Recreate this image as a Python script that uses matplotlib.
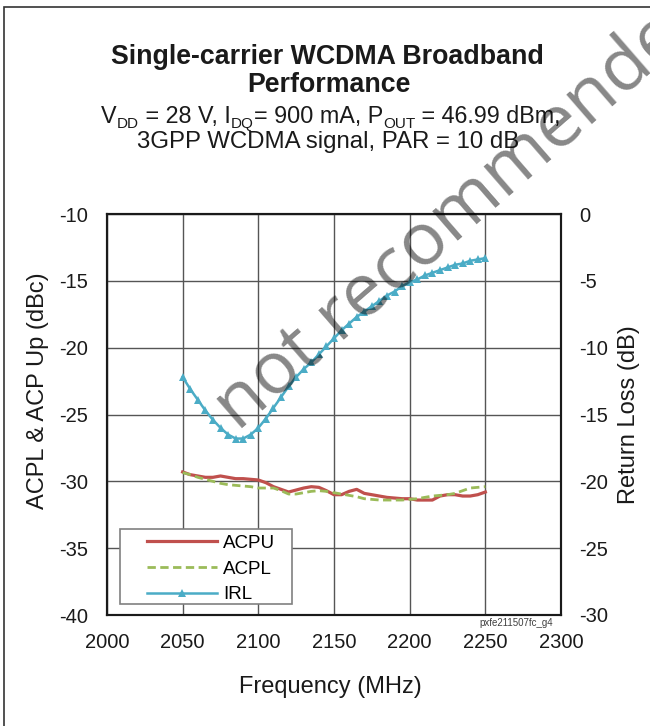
import matplotlib
matplotlib.use("Agg")
import matplotlib.pyplot as plt
from matplotlib.patches import Rectangle

plt.rcParams['font.family'] = ['Liberation Sans', 'DejaVu Sans']
plt.rcParams['axes.unicode_minus'] = False

# ---------------- data ----------------
freq = [2050, 2055, 2060, 2065, 2070, 2075, 2080, 2085, 2090, 2095,
        2100, 2105, 2110, 2115, 2120, 2125, 2130, 2135, 2140, 2145,
        2150, 2155, 2160, 2165, 2170, 2175, 2180, 2185, 2190, 2195,
        2200, 2205, 2210, 2215, 2220, 2225, 2230, 2235, 2240, 2245, 2250]

acpu = [-29.3, -29.5, -29.6, -29.7, -29.7, -29.6, -29.7, -29.8, -29.8, -29.85,
        -29.9, -30.1, -30.4, -30.6, -30.8, -30.65, -30.5, -30.4, -30.45, -30.7,
        -31.0, -31.0, -30.75, -30.6, -30.9, -31.0, -31.1, -31.2, -31.25, -31.3,
        -31.3, -31.4, -31.4, -31.4, -31.1, -31.0, -31.0, -31.1, -31.1, -31.0, -30.8]

acpl = [-29.35, -29.5, -29.7, -29.85, -30.0, -30.15, -30.25, -30.3, -30.35, -30.4,
        -30.5, -30.5, -30.5, -30.7, -30.95, -30.95, -30.85, -30.75, -30.7, -30.75,
        -30.85, -30.95, -31.05, -31.15, -31.3, -31.35, -31.4, -31.4, -31.4, -31.4,
        -31.35, -31.3, -31.2, -31.1, -31.05, -31.0, -30.9, -30.7, -30.5, -30.45, -30.4]

irl = [-12.2, -13.1, -13.9, -14.7, -15.4, -16.0, -16.5, -16.8, -16.8, -16.5,
       -16.0, -15.3, -14.5, -13.7, -12.9, -12.2, -11.6, -11.1, -10.5, -9.9,
       -9.3, -8.7, -8.2, -7.7, -7.3, -6.9, -6.5, -6.1, -5.8, -5.4,
       -5.1, -4.9, -4.6, -4.4, -4.2, -4.0, -3.8, -3.7, -3.5, -3.4, -3.3]

x_ticks = [2000, 2050, 2100, 2150, 2200, 2250, 2300]
left_ticks = [-40, -35, -30, -25, -20, -15, -10]
right_ticks = [-30, -25, -20, -15, -10, -5, 0]

title_lines = ["Single-carrier WCDMA Broadband", "Performance"]
# subtitle line 1 as (text, is_subscript) pieces
subtitle1 = [("V", False), ("DD", True), (" = 28 V, I", False), ("DQ", True),
             ("= 900 mA, P", False), ("OUT", True), (" = 46.99 dBm,", False)]
subtitle2 = "3GPP WCDMA signal, PAR = 10 dB"

C_ACPU = '#c0504d'
C_ACPL = '#9bbb59'
C_IRL = '#4bacc6'
TXT = '#1a1a1a'

W, H = 650, 726
fig = plt.figure(figsize=(W / 100, H / 100), dpi=100)

def fx(px):
    return px / W

def fy(py):
    return 1 - py / H

ax = fig.add_axes([fx(107), fy(615), fx(561) - fx(107), fy(214) - fy(615)])
ax2 = ax.twinx()

ax.set_xlim(2000, 2300)
ax.set_ylim(-40, -10)
ax2.set_ylim(-30, 0)
ax.set_xticks(x_ticks)
ax.set_yticks(left_ticks)
ax2.set_yticks(right_ticks)

ax.grid(True, color='#555555', linewidth=1.0)
ax.set_axisbelow(True)

for a in (ax, ax2):
    for s in a.spines.values():
        s.set_linewidth(1.5)
        s.set_color(TXT)

ax.tick_params(axis='x', length=0, pad=13, labelsize=14.5, colors=TXT)
ax.tick_params(axis='y', length=0, pad=13.5, labelsize=14.5, colors=TXT)
ax2.tick_params(axis='y', length=0, pad=13, labelsize=14.5, colors=TXT)

l1, = ax.plot(freq, acpu, color=C_ACPU, linewidth=2.3, label='ACPU', zorder=3)
l2, = ax.plot(freq, acpl, color=C_ACPL, linewidth=2.0, linestyle=(0, (3, 1.6)), label='ACPL', zorder=3)
l3, = ax2.plot(freq, irl, color=C_IRL, linewidth=1.8, marker='^', markersize=5.8,
               markeredgewidth=0, label='IRL', zorder=3)

ax.set_xlabel('Frequency (MHz)', fontsize=17, color=TXT)
ax.set_ylabel('ACPL & ACP Up (dBc)', fontsize=17, color=TXT)
ax2.set_ylabel('Return Loss (dB)', fontsize=17, color=TXT)
ax.xaxis.set_label_coords(0.492, -0.152)
ax.yaxis.set_label_coords(-0.128, 0.56)
ax2.yaxis.set_label_coords(1.125, 0.5)

# legend
leg = ax2.legend(handles=[l1, l2, l3], loc='upper left',
                 bbox_to_anchor=((147 - 107) / 454 - 0.012, (615 - 529) / 401),
                 frameon=False, fontsize=13.5, handlelength=3.7, handletextpad=0.35,
                 labelspacing=0.46, borderpad=0.3, borderaxespad=0)
ax2.add_patch(Rectangle(((120 - 107) / 454, (615 - 604) / 401), (292 - 120) / 454, (604 - 529) / 401,
                        transform=ax2.transAxes, facecolor='white', edgecolor='#808080',
                        linewidth=1.2, zorder=4))
leg.set_zorder(5)

# titles
fig.text(fx(327), fy(64), title_lines[0], ha='center', va='baseline', fontsize=19.3,
         fontweight='bold', color=TXT)
fig.text(fx(329), fy(92), title_lines[1], ha='center', va='baseline', fontsize=19.3,
         fontweight='bold', color=TXT)

# subtitle line 1 with subscripts, laid out piece by piece
MAIN_FS, SUB_FS, SUB_DROP = 16.8, 11, 5
pieces = []
for s, sub in subtitle1:
    t = fig.text(0, 0, s, ha='left', va='baseline', fontsize=SUB_FS if sub else MAIN_FS, color=TXT)
    pieces.append((t, sub))
fig.canvas.draw()
rend = fig.canvas.get_renderer()
widths = [t.get_window_extent(rend).width for t, _ in pieces]
x0 = 331 - sum(widths) / 2
for (t, sub), w in zip(pieces, widths):
    t.set_position((fx(x0), fy(123 + (SUB_DROP if sub else 0))))
    x0 += w

fig.text(fx(328.5), fy(148), subtitle2, ha='center', va='baseline', fontsize=17.3, color=TXT)

fig.text(fx(516), fy(626), 'pxfe211507fc_g4', ha='center', va='baseline', fontsize=7,
         color='#404040')

# figure border
fig.add_artist(Rectangle((fx(4), fy(736)), fx(656), fy(7) - fy(736),
                         transform=fig.transFigure, facecolor='none', edgecolor='#333333',
                         linewidth=1.2))

# watermark
fig.text(fx(238), fy(432), 'not recommended', rotation=41, rotation_mode='anchor',
         ha='left', va='baseline', fontsize=53, family=['Open Sans', 'DejaVu Sans'],
         color='black', alpha=0.47, zorder=10)

fig.savefig('out.png', dpi=100)
